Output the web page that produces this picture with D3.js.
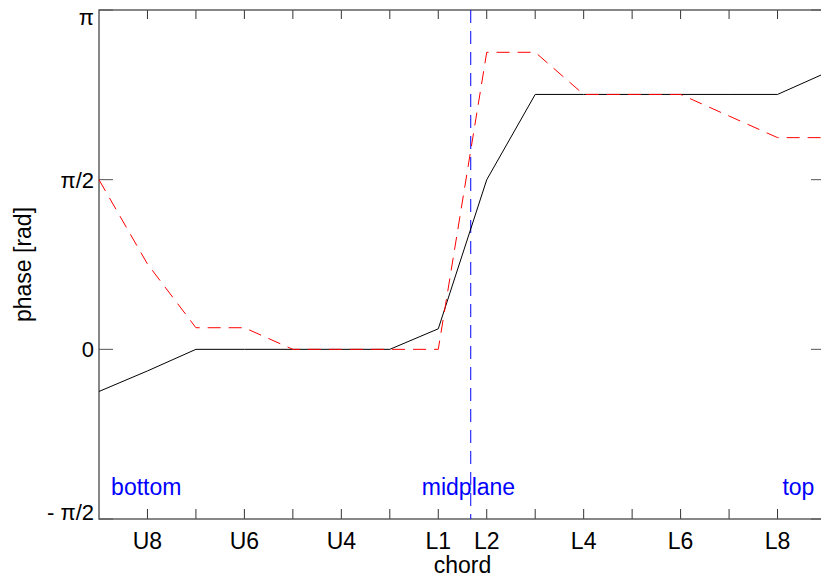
<!DOCTYPE html>
<html>
<head>
<meta charset="utf-8">
<script src="https://cdn.jsdelivr.net/npm/d3@7"></script>
<style>
  body { margin: 0; background: #fff; }
  svg { display: block; overflow: hidden; }
</style>
</head>
<body>
<div id="phasechart"></div>
<script>
// chord index along the x axis
var chordIdx = [0, 1, 2, 3, 4, 5, 6, 7, 8, 9, 10, 11, 12, 13, 14, 15];
// labelled chords
var chordTicks = [1, 3, 5, 7, 8, 10, 12, 14];
var chordLabels = ["U8", "U6", "U4", "L1", "L2", "L4", "L6", "L8"];
// phase values [rad]
var phaseSolid = [-0.39, -0.2, 0, 0, 0, 0, 0, 0.19, 1.57, 2.36, 2.36, 2.36, 2.36, 2.36, 2.36, 2.56];
var phaseDashed = [1.57, 0.79, 0.2, 0.2, 0, 0, 0, 0, 2.75, 2.75, 2.36, 2.36, 2.36, 2.16, 1.96, 1.96];
// y ticks
var phaseTicks = [Math.PI, Math.PI / 2, 0, -Math.PI / 2];
var phaseLabels = ["\u03c0", "\u03c0/2", "0", "- \u03c0/2"];
// midplane position and annotations
var midplane = 7.67;
var notes = [{x: 0.25, y: -1.35, t: "bottom"},
             {x: 6.66, y: -1.35, t: "midplane"},
             {x: 14.1, y: -1.35, t: "top"}];

var W = 821, H = 581;
var pLeft = 99, pRight = 826, pTop = 10, pBottom = 519;

var svg = d3.select("#phasechart")
  .append("svg")
  .attr("width", W)
  .attr("height", H)
  .style("font-family", "'Liberation Sans', Arial, sans-serif");

var x = d3.scaleLinear().domain([0, 15]).range([pLeft, pRight]);
var y = d3.scaleLinear().domain([-Math.PI / 2, Math.PI]).range([pBottom, pTop]);

// ---------------------------//
//       FRAME AND TICKS      //
// ---------------------------//
var minorX = d3.range(1, 15);

// bottom ticks
svg.append("g").selectAll("line").data(minorX).enter().append("line")
  .attr("x1", function(d) { return x(d); }).attr("x2", function(d) { return x(d); })
  .attr("y1", pBottom).attr("y2", pBottom - 10)
  .attr("stroke", "#333");
// top ticks
svg.append("g").selectAll("line").data(minorX).enter().append("line")
  .attr("x1", function(d) { return x(d); }).attr("x2", function(d) { return x(d); })
  .attr("y1", pTop).attr("y2", pTop + 9)
  .attr("stroke", "#333");
// left and right ticks
svg.append("g").selectAll("line").data(phaseTicks).enter().append("line")
  .attr("x1", pLeft).attr("x2", pLeft + 14)
  .attr("y1", function(d) { return y(d); }).attr("y2", function(d) { return y(d); })
  .attr("stroke", "#555");
svg.append("g").selectAll("line").data(phaseTicks).enter().append("line")
  .attr("x1", pRight).attr("x2", pRight - 15)
  .attr("y1", function(d) { return y(d); }).attr("y2", function(d) { return y(d); })
  .attr("stroke", "#555");

svg.append("rect")
  .attr("x", pLeft).attr("y", pTop)
  .attr("width", pRight - pLeft).attr("height", pBottom - pTop)
  .attr("fill", "none")
  .attr("stroke", "#555")
  .attr("stroke-width", 1.4);

// x tick labels
svg.append("g").selectAll("text").data(chordTicks).enter().append("text")
  .attr("x", function(d) { return x(d); })
  .attr("y", 549)
  .attr("text-anchor", "middle")
  .attr("font-size", "23px")
  .text(function(d, i) { return chordLabels[i]; });

// y tick labels
var yNudge = [15, 8, 8, 1];
svg.append("g").selectAll("text").data(phaseTicks).enter().append("text")
  .attr("x", 94)
  .attr("y", function(d, i) { return y(d) + yNudge[i]; })
  .attr("text-anchor", "end")
  .attr("font-size", "22px")
  .text(function(d, i) { return phaseLabels[i]; });

// axis titles
svg.append("text")
  .attr("x", (pLeft + pRight) / 2)
  .attr("y", 573)
  .attr("text-anchor", "middle")
  .attr("font-size", "23px")
  .text("chord");

svg.append("text")
  .attr("transform", "translate(31," + (pTop + pBottom) / 2 + ") rotate(-90)")
  .attr("text-anchor", "middle")
  .attr("font-size", "23px")
  .text("phase [rad]");

// ---------------------------//
//       LINES                //
// ---------------------------//
var line = d3.line()
  .x(function(d, i) { return x(chordIdx[i]); })
  .y(function(d) { return y(d); });

svg.append("line")
  .attr("x1", x(midplane)).attr("x2", x(midplane))
  .attr("y1", pTop).attr("y2", pBottom)
  .attr("stroke", "#0000ff")
  .attr("stroke-dasharray", "13,8");

svg.append("path")
  .datum(phaseSolid)
  .attr("d", line)
  .attr("fill", "none")
  .attr("stroke", "#000")
  .attr("stroke-width", 1);

svg.append("path")
  .datum(phaseDashed)
  .attr("d", line)
  .attr("fill", "none")
  .attr("stroke", "#ff0000")
  .attr("stroke-width", 1)
  .attr("stroke-dasharray", "13,8");

// annotations
svg.append("g").selectAll("text").data(notes).enter().append("text")
  .attr("x", function(d) { return x(d.x); })
  .attr("y", function(d) { return y(d.y); })
  .attr("font-size", "23px")
  .attr("fill", "#0000ff")
  .text(function(d) { return d.t; });
</script>
</body>
</html>
